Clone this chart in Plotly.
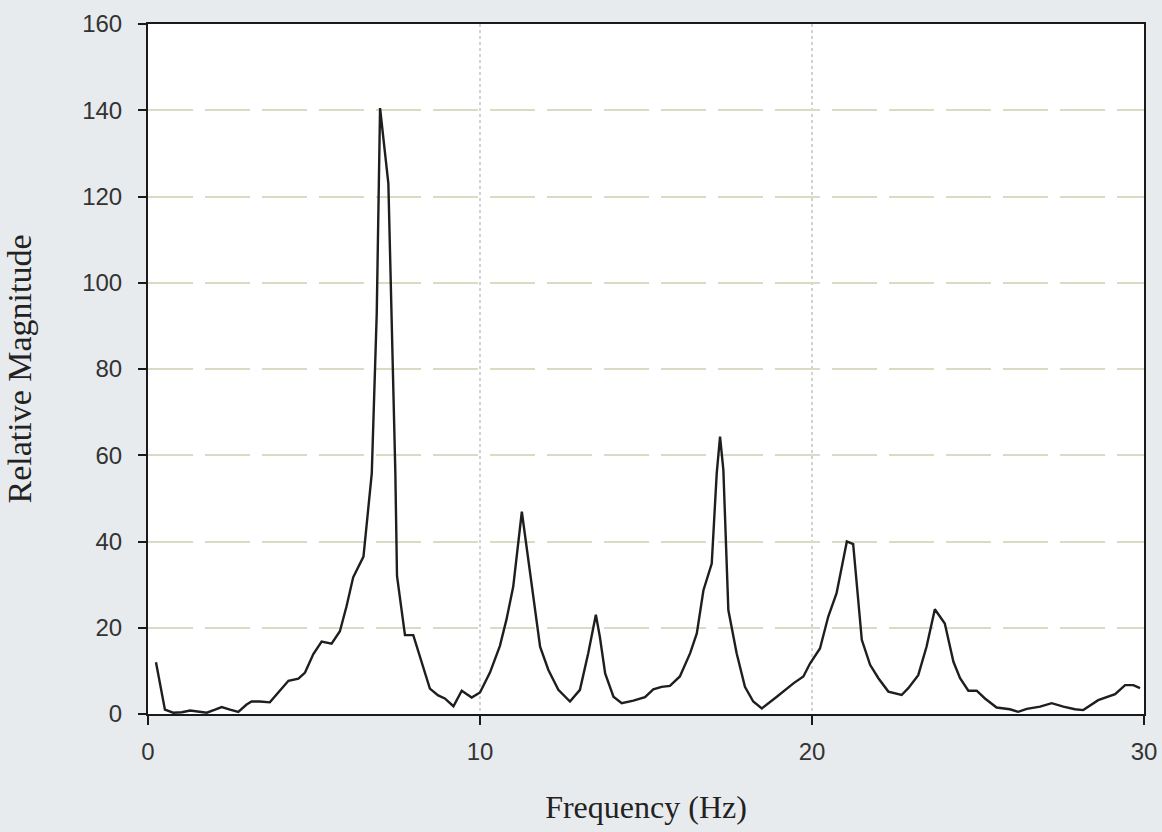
import plotly.graph_objects as go

freq = [0.24, 0.51, 0.76, 1.02, 1.27, 1.52, 1.77, 2.02, 2.22, 2.47, 2.72, 2.97, 3.12, 3.37, 3.67,
        3.95, 4.23, 4.53, 4.73, 4.98, 5.23, 5.53, 5.78, 5.98, 6.18, 6.49, 6.74, 6.89, 6.99, 7.24,
        7.45, 7.50, 7.74, 7.99, 8.19, 8.49, 8.74, 8.94, 9.20, 9.45, 9.75, 10.0, 10.30, 10.60, 10.80,
        11.0, 11.26, 11.36, 11.56, 11.81, 12.06, 12.36, 12.71, 13.01, 13.26, 13.49, 13.61, 13.77,
        14.02, 14.27, 14.62, 14.97, 15.22, 15.47, 15.72, 16.02, 16.33, 16.53, 16.73, 16.98, 17.13,
        17.23, 17.33, 17.48, 17.73, 17.98, 18.23, 18.49, 18.94, 19.44, 19.74, 19.94, 20.24, 20.49,
        20.74, 21.05, 21.24, 21.50, 21.75, 22.0, 22.30, 22.70, 22.90, 23.20, 23.45, 23.70, 24.0,
        24.26, 24.46, 24.71, 24.96, 25.21, 25.56, 25.96, 26.21, 26.47, 26.87, 27.22, 27.57, 27.92,
        28.17, 28.62, 29.13, 29.43, 29.68, 29.88]
magnitude = [12.0, 1.0, 0.3, 0.4, 0.8, 0.5, 0.3, 1.0, 1.6, 1.0, 0.5, 2.2, 2.9, 2.9, 2.7,
             5.2, 7.7, 8.2, 9.6, 13.9, 16.8, 16.3, 19.2, 25.0, 31.7, 36.5, 55.8, 93.0, 140.5, 123.0,
             56.0, 32.0, 18.3, 18.3, 13.5, 5.9, 4.3, 3.6, 1.8, 5.4, 3.8, 5.0, 9.6, 15.8, 22.0,
             29.5, 46.9, 41.0, 29.5, 15.6, 10.2, 5.6, 2.9, 5.6, 14.1, 23.0, 17.9, 9.4,
             4.0, 2.5, 3.1, 3.9, 5.7, 6.3, 6.5, 8.7, 14.1, 18.7, 28.7, 34.9, 55.8,
             64.3, 56.6, 24.1, 14.1, 6.3, 2.9, 1.3, 4.0, 7.1, 8.7, 11.7, 15.2, 22.6,
             28.0, 40.0, 39.4, 17.2, 11.4, 8.3, 5.2, 4.4, 6.0, 9.0, 15.6, 24.3, 21.0,
             12.1, 8.3, 5.4, 5.4, 3.6, 1.5, 1.1, 0.5, 1.2, 1.7, 2.5, 1.7, 1.1,
             0.9, 3.2, 4.6, 6.7, 6.7, 6.0]

x_ticks = [0, 10, 20, 30]
y_ticks = [0, 20, 40, 60, 80, 100, 120, 140, 160]

BG = "#e8ebee"

fig = go.Figure()
fig.add_trace(go.Scatter(x=freq, y=magnitude, mode="lines",
                         line=dict(color="#1e1e1e", width=2.4), showlegend=False))

fig.update_layout(
    width=1162, height=832,
    margin=dict(l=148, r=18, t=24, b=118, autoexpand=False),
    paper_bgcolor=BG,
    plot_bgcolor="#ffffff",
    font=dict(family="Liberation Sans, Arial", size=24, color="#333333"),
)
fig.update_xaxes(
    range=[0, 30], tickvals=x_ticks, ticktext=[str(v) for v in x_ticks],
    showline=True, linecolor="#1a1a1a", linewidth=2, mirror=True,
    ticks="outside", ticklen=9, tickwidth=2, tickcolor="#1a1a1a",
    showgrid=True, gridcolor="#d2d2d2", gridwidth=1.5, griddash="dot",
    zeroline=False, ticklabelstandoff=6, automargin=False, ticklabeloverflow="allow",
    title=dict(text="Frequency (Hz)", font=dict(family="Liberation Serif, Times New Roman", size=32, color="#222222"),
               standoff=32),
)
fig.update_yaxes(
    range=[0, 160], tickvals=y_ticks, ticktext=[str(v) for v in y_ticks],
    showline=True, linecolor="#1a1a1a", linewidth=2, mirror=True,
    ticks="outside", ticklen=8, tickwidth=2, tickcolor="#1a1a1a",
    showgrid=True, gridcolor="#dcdac4", gridwidth=1.5, griddash="45px,12px",
    zeroline=False, ticklabelstandoff=11, automargin=False, ticklabeloverflow="allow",
    title=dict(text="Relative Magnitude", font=dict(family="Liberation Serif, Times New Roman", size=34, color="#222222"),
               standoff=40),
)
fig.write_html("out.html", config={"displayModeBar": False},
               post_script="document.body.style.margin='0';document.body.style.overflow='hidden';"
                           "document.body.style.background='%s';" % BG)
